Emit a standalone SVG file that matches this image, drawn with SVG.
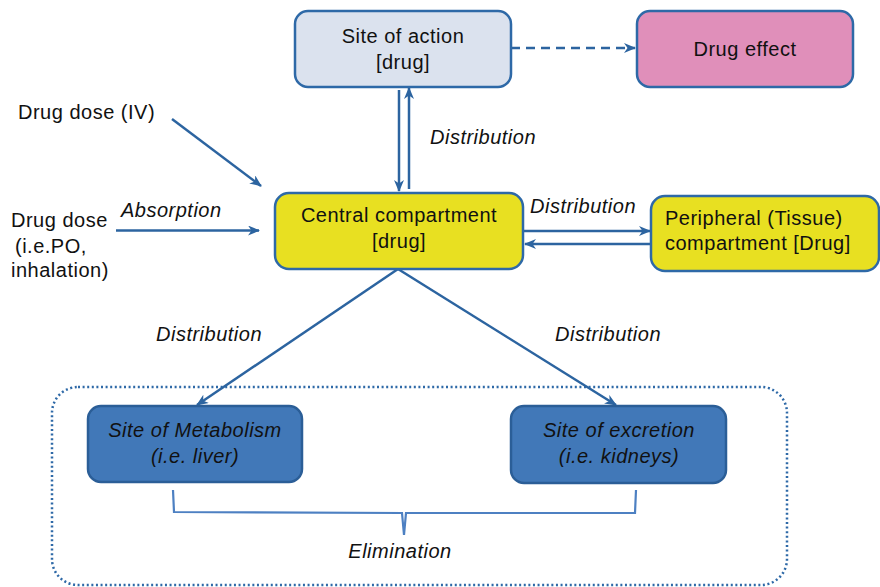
<svg xmlns="http://www.w3.org/2000/svg" width="880" height="587" viewBox="0 0 880 587">
<defs>
<marker id="ah" viewBox="0 0 12 10" refX="11" refY="5" markerWidth="12" markerHeight="10" markerUnits="userSpaceOnUse" orient="auto">
<path d="M0,0 L12,5 L0,10 L3.5,5 Z" fill="#2c64a0"/>
</marker>
</defs>
<style>
text{font-family:"Liberation Sans",Arial,Helvetica,sans-serif;font-size:20px;letter-spacing:0.5px;fill:#111;}
.it{font-style:italic;}
.mid{text-anchor:middle;}
.box{stroke:#2e69a7;stroke-width:2.5;}
.conn{stroke:#2c64a0;stroke-width:2.5;fill:none;}
</style>
<rect width="880" height="587" fill="#ffffff"/>
<g id="container">
<rect x="52" y="387" width="735" height="198" rx="26" fill="none" stroke="#2e69a7" stroke-width="2.5" stroke-dasharray="2 2.6"/>
</g>
<g id="connectors">
<line class="conn" x1="511" y1="48" x2="635" y2="48" stroke-dasharray="9 6" marker-end="url(#ah)"/>
<line class="conn" x1="399" y1="90" x2="399" y2="191" marker-end="url(#ah)"/>
<line class="conn" x1="409" y1="189" x2="409" y2="88" marker-end="url(#ah)"/>
<line class="conn" x1="172" y1="119" x2="261" y2="186" marker-end="url(#ah)"/>
<line class="conn" x1="116" y1="230.5" x2="259" y2="230.5" marker-end="url(#ah)"/>
<line class="conn" x1="523" y1="231" x2="650" y2="231" marker-end="url(#ah)"/>
<line class="conn" x1="651" y1="244" x2="525" y2="244" marker-end="url(#ah)"/>
<line class="conn" x1="398" y1="269" x2="197" y2="405" marker-end="url(#ah)"/>
<line class="conn" x1="398" y1="269" x2="616" y2="405" marker-end="url(#ah)"/>
<path d="M173,490 L174,512 L402,513 L404,535 L406,513 L635,513 L636,490" fill="none" stroke="#4d80c2" stroke-width="2.2"/>
</g>
<g id="site-of-action">
<rect class="box" x="295" y="11" width="216" height="76" rx="13" fill="#dbe2ee"/>
<text class="mid" x="403" y="43">Site of action</text>
<text class="mid" x="403" y="69">[drug]</text>
</g>
<g id="drug-effect">
<rect class="box" x="637" y="11" width="216" height="76" rx="13" fill="#e08fba"/>
<text class="mid" x="745" y="56">Drug effect</text>
</g>
<g id="drug-dose-iv">
<text x="18" y="119">Drug dose (IV)</text>
</g>
<g id="drug-dose-po">
<text x="11" y="227">Drug dose</text>
<text x="15" y="253">(i.e.PO,</text>
<text x="11" y="277">inhalation)</text>
</g>
<g id="central-compartment">
<rect class="box" x="275" y="193" width="248" height="76" rx="14" fill="#e8e021"/>
<text class="mid" x="399" y="222">Central compartment</text>
<text class="mid" x="399" y="248">[drug]</text>
</g>
<g id="peripheral-compartment">
<rect class="box" x="651" y="196" width="228" height="75" rx="14" fill="#e8e021"/>
<text x="665" y="225">Peripheral (Tissue)</text>
<text x="665" y="250">compartment [Drug]</text>
</g>
<g id="site-of-metabolism">
<rect x="88" y="406" width="214" height="76" rx="13" fill="#4178b8" stroke="#2b5e97" stroke-width="2.5"/>
<text class="mid it" x="195" y="437">Site of Metabolism</text>
<text class="mid it" x="195" y="463">(i.e. liver)</text>
</g>
<g id="site-of-excretion">
<rect x="511" y="406" width="215" height="77" rx="13" fill="#4178b8" stroke="#2b5e97" stroke-width="2.5"/>
<text class="mid it" x="619" y="437">Site of excretion</text>
<text class="mid it" x="619" y="463">(i.e. kidneys)</text>
</g>
<g id="labels">
<text class="it" x="430" y="144">Distribution</text>
<text class="it" x="121" y="217">Absorption</text>
<text class="it" x="530" y="213">Distribution</text>
<text class="it" x="156" y="341">Distribution</text>
<text class="it" x="555" y="341">Distribution</text>
<text class="it mid" x="400" y="558">Elimination</text>
</g>
</svg>
